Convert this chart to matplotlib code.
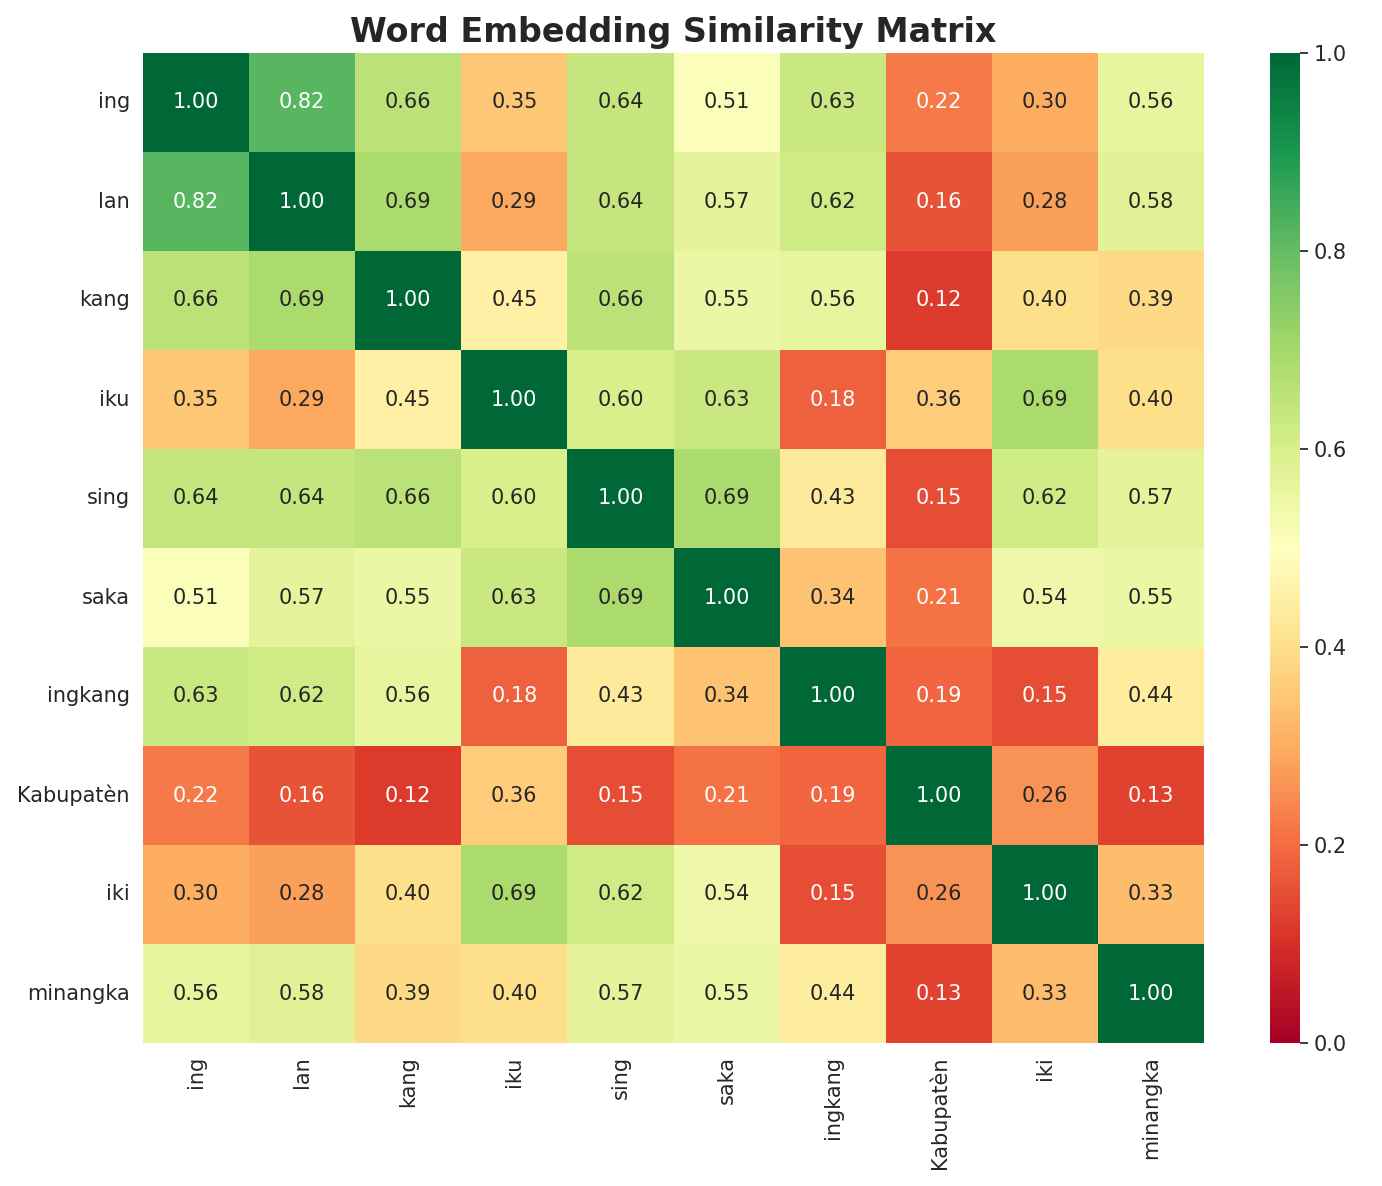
import numpy as np
import matplotlib
matplotlib.use("Agg")
import matplotlib.pyplot as plt
import seaborn as sns

words = ["ing", "lan", "kang", "iku", "sing", "saka", "ingkang", "Kabupatèn", "iki", "minangka"]
sim = [
    [1.00, 0.82, 0.66, 0.35, 0.64, 0.51, 0.63, 0.22, 0.30, 0.56],
    [0.82, 1.00, 0.69, 0.29, 0.64, 0.57, 0.62, 0.16, 0.28, 0.58],
    [0.66, 0.69, 1.00, 0.45, 0.66, 0.55, 0.56, 0.12, 0.40, 0.39],
    [0.35, 0.29, 0.45, 1.00, 0.60, 0.63, 0.18, 0.36, 0.69, 0.40],
    [0.64, 0.64, 0.66, 0.60, 1.00, 0.69, 0.43, 0.15, 0.62, 0.57],
    [0.51, 0.57, 0.55, 0.63, 0.69, 1.00, 0.34, 0.21, 0.54, 0.55],
    [0.63, 0.62, 0.56, 0.18, 0.43, 0.34, 1.00, 0.19, 0.15, 0.44],
    [0.22, 0.16, 0.12, 0.36, 0.15, 0.21, 0.19, 1.00, 0.26, 0.13],
    [0.30, 0.28, 0.40, 0.69, 0.62, 0.54, 0.15, 0.26, 1.00, 0.33],
    [0.56, 0.58, 0.39, 0.40, 0.57, 0.55, 0.44, 0.13, 0.33, 1.00],
]

sns.set_theme(style="white")
plt.rcParams['font.family'] = ['DejaVu Sans']

fig = plt.figure(figsize=(13.82, 11.86), dpi=100)
ax = fig.add_axes([143/1382, 1-1043/1186, (1204-143)/1382, (1043-53)/1186])
cax = fig.add_axes([1270/1382, 1-1043/1186, 30/1382, (1043-53)/1186])
sns.heatmap(np.array(sim), ax=ax, cbar_ax=cax, cmap="RdYlGn", vmin=0, vmax=1,
            annot=True, fmt=".2f", annot_kws={"size": 15},
            xticklabels=words, yticklabels=words)
ax.set_title("Word Embedding Similarity Matrix", fontsize=24, fontweight="bold", pad=8)
ax.tick_params(axis='both', labelsize=15)
plt.setp(ax.get_xticklabels(), rotation=90)
plt.setp(ax.get_yticklabels(), rotation=0)
cax.tick_params(labelsize=15)
fig.savefig("out.png", dpi=100)
